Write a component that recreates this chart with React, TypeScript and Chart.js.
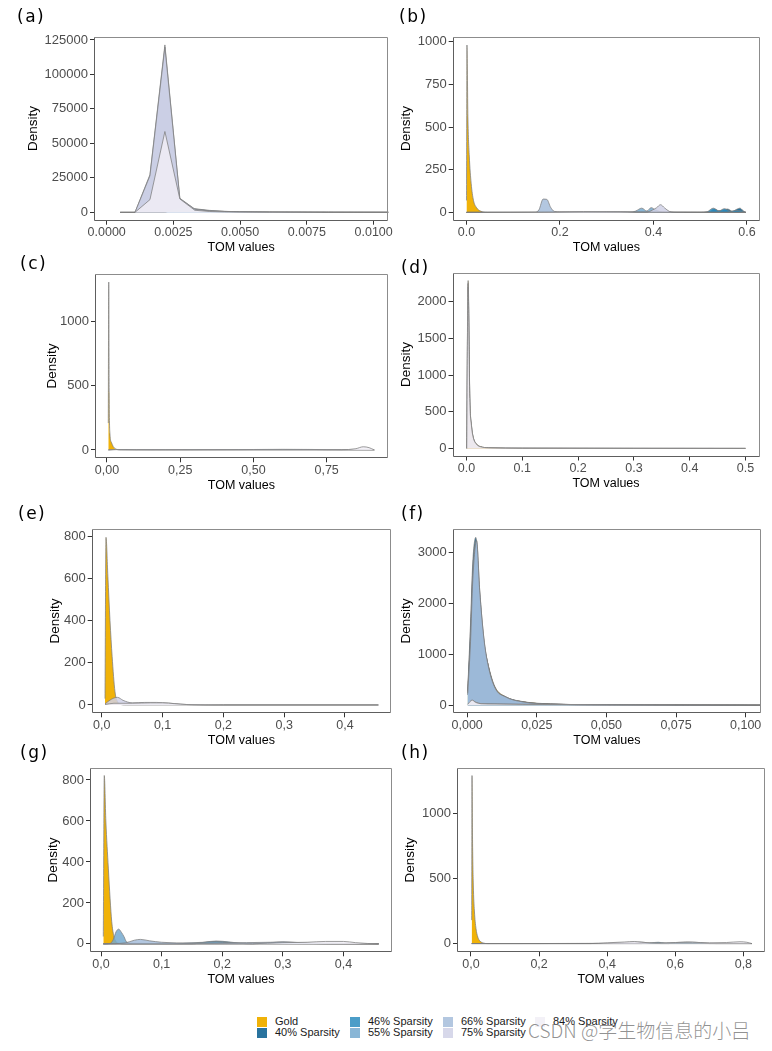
import React, { useEffect, useRef } from "react";
import { Chart, registerables } from "chart.js";

Chart.register(...registerables);
Chart.defaults.font.family = "'Liberation Sans', Arial, Helvetica, sans-serif";

// ---------- series ----------
const SERIES = ["Gold", "40% Sparsity", "46% Sparsity", "55% Sparsity", "66% Sparsity", "75% Sparsity", "84% Sparsity"];
const COLORS = ["#EFB000", "#045A8D", "#2B8CBE", "#74A9CF", "#A6BDDB", "#D0D1E6", "#F1EEF6"];
const ALPHAS = [0.97, 0.85, 0.85, 0.85, 0.85, 0.85, 0.85];

// ---------- panel (a) ----------
const aXTicks = [0, 0.0025, 0.005, 0.0075, 0.01];
const aXLabels = ["0.0000", "0.0025", "0.0050", "0.0075", "0.0100"];
const aYTicks = [0, 25000, 50000, 75000, 100000, 125000];
const a55 = [[0.0005, 0], [0.00218, 0], [0.00274, 3200], [0.0033, 2600], [0.00386, 1400], [0.00442, 700], [0.00498, 400], [0.0061, 200], [0.0083, 100], [0.011, 60]];
const a66 = [[0.0005, 0], [0.00106, 0], [0.00162, 27300], [0.00218, 121400], [0.00274, 10200], [0.0033, 2400], [0.00386, 1100], [0.00442, 650], [0.00498, 420], [0.00554, 300], [0.0061, 220], [0.0072, 150], [0.0083, 110], [0.0094, 80], [0.0105, 60], [0.011, 50]];
const a75 = [[0.0005, 0], [0.00106, 0], [0.00162, 26500], [0.00218, 119800], [0.00274, 9900], [0.0033, 2200], [0.00386, 1000], [0.00442, 600], [0.00498, 400], [0.0061, 200], [0.0083, 100], [0.011, 50]];
const a84 = [[0.0005, 0], [0.00106, 0], [0.00162, 9200], [0.00218, 58600], [0.00274, 9700], [0.0033, 1500], [0.00386, 600], [0.00442, 300], [0.0061, 150], [0.0083, 80], [0.011, 40]];

// ---------- panel (b) ----------
const bXTicks = [0, 0.2, 0.4, 0.6];
const bXLabels = ["0.0", "0.2", "0.4", "0.6"];
const bYTicks = [0, 250, 500, 750, 1000];
const bGold = [[0, 70], [0.001, 980], [0.003, 560], [0.006, 330], [0.01, 170], [0.015, 70], [0.021, 30], [0.03, 8], [0.045, 0], [0.598, 0]];
const b40 = [[0, 0], [0.5, 0], [0.52, 4], [0.53, 20], [0.54, 10], [0.55, 14], [0.558, 20], [0.57, 6], [0.578, 18], [0.585, 25], [0.592, 10], [0.598, 0]];
const b46 = [[0, 0], [0.5, 0], [0.515, 4], [0.528, 25], [0.54, 9], [0.552, 22], [0.565, 5], [0.575, 12], [0.588, 8], [0.598, 0]];
const b55 = [[0, 0], [0.35, 0], [0.362, 8], [0.375, 25], [0.386, 8], [0.395, 28], [0.405, 14], [0.42, 2], [0.45, 0], [0.598, 0]];
const b66 = [[0, 0], [0.145, 0], [0.155, 15], [0.164, 78], [0.172, 76], [0.18, 30], [0.188, 6], [0.2, 3], [0.3, 5], [0.36, 3], [0.598, 0]];
const b75 = [[0, 0], [0.385, 0], [0.398, 14], [0.407, 28], [0.415, 45], [0.424, 26], [0.434, 6], [0.445, 0], [0.598, 0]];
const b84 = [[0, 0], [0.19, 2], [0.25, 5], [0.33, 4], [0.36, 1], [0.598, 0]];

// ---------- panel (c) ----------
const cXTicks = [0, 0.25, 0.5, 0.75];
const cXLabels = ["0,00", "0,25", "0,50", "0,75"];
const cYTicks = [0, 500, 1000];
const cGold = [[0.0045, 210], [0.006, 1310], [0.0075, 450], [0.01, 130], [0.015, 60], [0.021, 28], [0.03, 8], [0.045, 0], [0.913, 0]];
const c66 = [[0.0045, 0], [0.04, 3], [0.2, 2], [0.45, 3], [0.6, 5], [0.7, 4], [0.75, 2], [0.913, 0]];
const c84 = [[0.0045, 0], [0.03, 4], [0.1, 2], [0.5, 2], [0.8, 2], [0.85, 10], [0.875, 25], [0.895, 18], [0.913, 0]];

// ---------- panel (d) ----------
const dXTicks = [0, 0.1, 0.2, 0.3, 0.4, 0.5];
const dXLabels = ["0.0", "0.1", "0.2", "0.3", "0.4", "0.5"];
const dYTicks = [0, 500, 1000, 1500, 2000];
const dGold = [[0.0005, 0], [0.003, 2290], [0.006, 700], [0.009, 320], [0.012, 160], [0.018, 60], [0.025, 25], [0.04, 10], [0.1, 4], [0.3, 2], [0.5, 1]];
const d75 = [[0.0005, 0], [0.003, 2200], [0.006, 650], [0.009, 300], [0.012, 150], [0.018, 55], [0.025, 22], [0.04, 9], [0.1, 3], [0.3, 1], [0.5, 0]];
const d84 = [[0.0005, 0], [0.0028, 2250], [0.006, 680], [0.009, 310], [0.012, 155], [0.018, 58], [0.025, 24], [0.04, 10], [0.1, 4], [0.3, 2], [0.5, 1]];

// ---------- panel (e) ----------
const eXTicks = [0, 0.1, 0.2, 0.3, 0.4];
const eXLabels = ["0,0", "0,1", "0,2", "0,3", "0,4"];
const eYTicks = [0, 200, 400, 600, 800];
const eGold = [[0.0053, 30], [0.0069, 795], [0.01, 610], [0.0135, 400], [0.017, 230], [0.0217, 63], [0.026, 15], [0.03, 3], [0.04, 0], [0.455, 0]];
const e75 = [[0.0053, 5], [0.012, 20], [0.02, 33], [0.026, 36], [0.035, 22], [0.05, 10], [0.07, 12], [0.09, 12], [0.11, 9], [0.13, 4], [0.15, 1], [0.2, 0], [0.455, 0]];
const e84 = [[0.0053, 2], [0.02, 8], [0.05, 8], [0.08, 10], [0.1, 10], [0.12, 6], [0.14, 2], [0.2, 0], [0.455, 0]];

// ---------- panel (f) ----------
const fXTicks = [0, 0.025, 0.05, 0.075, 0.1];
const fXLabels = ["0,000", "0,025", "0,050", "0,075", "0,100"];
const fYTicks = [0, 1000, 2000, 3000];
const fGold = [[0.0002, 200], [0.0012, 1300], [0.002, 2400], [0.003, 2900], [0.0042, 2100], [0.0055, 1350], [0.0075, 800], [0.01, 360], [0.0137, 170], [0.02, 70], [0.03, 25], [0.05, 7], [0.08, 2], [0.106, 0]];
const f40 = [[0.0002, 300], [0.0012, 1600], [0.002, 2800], [0.0031, 3300], [0.0042, 2300], [0.0055, 1400], [0.0075, 790], [0.01, 335], [0.0137, 164], [0.02, 65], [0.03, 22], [0.05, 6], [0.08, 2], [0.106, 0]];
const f46 = [[0.0002, 280], [0.0012, 1450], [0.002, 2650], [0.0032, 3180], [0.0044, 2250], [0.0058, 1350], [0.0075, 780], [0.01, 330], [0.0137, 162], [0.02, 63], [0.03, 21], [0.05, 6], [0.08, 2], [0.106, 0]];
const f55 = [[0.0002, 250], [0.0012, 1300], [0.002, 2500], [0.0033, 3250], [0.0045, 2250], [0.006, 1300], [0.0075, 780], [0.01, 330], [0.0137, 160], [0.02, 62], [0.03, 20], [0.05, 5], [0.08, 2], [0.106, 0]];
const f66 = [[0.0002, 230], [0.0012, 1250], [0.002, 2450], [0.0034, 3230], [0.0045, 2250], [0.006, 1320], [0.0075, 790], [0.01, 340], [0.0137, 165], [0.02, 64], [0.03, 21], [0.05, 6], [0.08, 2], [0.106, 0]];
const f75 = [[0.0002, 10], [0.002, 90], [0.003, 60], [0.005, 30], [0.01, 25], [0.02, 18], [0.05, 6], [0.106, 0]];
const f84 = [[0.0002, 20], [0.0018, 100], [0.003, 55], [0.005, 28], [0.01, 22], [0.02, 15], [0.05, 5], [0.106, 0]];

// ---------- panel (g) ----------
const gXTicks = [0, 0.1, 0.2, 0.3, 0.4];
const gXLabels = ["0,0", "0,1", "0,2", "0,3", "0,4"];
const gYTicks = [0, 200, 400, 600, 800];
const gGold = [[0.0038, 36], [0.0054, 822], [0.008, 600], [0.0121, 370], [0.015, 220], [0.0177, 109], [0.021, 40], [0.025, 10], [0.03, 2], [0.04, 0], [0.458, 0]];
const g40 = [[0.0038, 0], [0.25, 0], [0.28, 6], [0.3, 9], [0.32, 7], [0.35, 2], [0.38, 0], [0.458, 0]];
const g46 = [[0.0038, 0], [0.15, 0], [0.17, 8], [0.19, 14], [0.21, 10], [0.23, 3], [0.25, 0], [0.458, 0]];
const g55 = [[0.0038, 0], [0.015, 2], [0.02, 20], [0.025, 60], [0.029, 72], [0.034, 55], [0.038, 35], [0.042, 10], [0.05, 3], [0.1, 2], [0.17, 8], [0.19, 12], [0.21, 6], [0.25, 2], [0.458, 0]];
const g66 = [[0.0038, 0], [0.04, 5], [0.055, 18], [0.065, 22], [0.08, 15], [0.1, 8], [0.15, 3], [0.2, 5], [0.28, 8], [0.3, 10], [0.33, 6], [0.4, 2], [0.458, 0]];
const g84 = [[0.0038, 0], [0.25, 1], [0.3, 6], [0.34, 8], [0.37, 12], [0.4, 12], [0.42, 6], [0.44, 2], [0.458, 0]];

// ---------- panel (h) ----------
const hXTicks = [0, 0.2, 0.4, 0.6, 0.8];
const hXLabels = ["0,0", "0,2", "0,4", "0,6", "0,8"];
const hYTicks = [0, 500, 1000];
const hGold = [[0.002, 180], [0.003, 1290], [0.0045, 800], [0.0068, 450], [0.01, 250], [0.0147, 115], [0.02, 50], [0.0245, 25], [0.035, 5], [0.05, 0], [0.825, 0]];
const h40 = [[0.002, 0], [0.58, 0], [0.61, 6], [0.64, 10], [0.67, 6], [0.7, 0], [0.825, 0]];
const h46 = [[0.002, 0], [0.5, 0], [0.53, 6], [0.55, 10], [0.57, 5], [0.6, 8], [0.63, 12], [0.66, 10], [0.69, 3], [0.72, 0], [0.825, 0]];
const h75 = [[0.002, 0], [0.4, 2], [0.47, 10], [0.5, 12], [0.52, 5], [0.56, 0], [0.825, 0]];
const h84 = [[0.002, 0], [0.35, 0], [0.4, 6], [0.45, 12], [0.48, 16], [0.5, 10], [0.55, 5], [0.6, 8], [0.65, 10], [0.7, 6], [0.75, 8], [0.79, 14], [0.81, 10], [0.825, 0]];

// ---------- layout (positions only) ----------
const PANELS = [
  { tag: "(a)", tagX: 17, tagY: 8, L: 94, T: 36.5, R: 388.3, B: 220.7, cl: 25, xMin: -0.000476, xMax: 0.01055, yMin: -6070, yMax: 127500, xTicks: aXTicks, xLabels: aXLabels, yTicks: aYTicks, smooth: false, series: [[3, a55], [4, a66], [5, a75], [6, a84]] },
  { tag: "(b)", tagX: 399, tagY: 8, L: 452.7, T: 36.5, R: 760, B: 220.7, cl: 398, xMin: -0.0295, xMax: 0.628, yMin: -48.5, yMax: 1030, xTicks: bXTicks, xLabels: bXLabels, yTicks: bYTicks, smooth: true, series: [[0, bGold], [1, b40], [2, b46], [3, b55], [4, b66], [5, b75], [6, b84]] },
  { tag: "(c)", tagX: 20, tagY: 255.3, L: 95, T: 273.5, R: 387.7, B: 458.3, cl: 44, xMin: -0.0409, xMax: 0.9585, yMin: -65, yMax: 1377, xTicks: cXTicks, xLabels: cXLabels, yTicks: cYTicks, smooth: true, series: [[0, cGold], [4, c66], [6, c84]] },
  { tag: "(d)", tagX: 401, tagY: 258.6, L: 452.5, T: 272.5, R: 759.5, B: 456.5, cl: 398, xMin: -0.025, xMax: 0.525, yMin: -110, yMax: 2400, xTicks: dXTicks, xLabels: dXLabels, yTicks: dYTicks, smooth: true, series: [[0, dGold], [5, d75], [6, d84]] },
  { tag: "(e)", tagX: 18, tagY: 505.3, L: 91.7, T: 528.5, R: 391, B: 713.3, cl: 47, xMin: -0.0166, xMax: 0.4757, yMin: -39.5, yMax: 837, xTicks: eXTicks, xLabels: eXLabels, yTicks: eYTicks, smooth: true, series: [[0, eGold], [5, e75], [6, e84]] },
  { tag: "(f)", tagX: 401, tagY: 505.3, L: 452.7, T: 528.5, R: 761, B: 713.3, cl: 398, xMin: -0.0052, xMax: 0.1055, yMin: -160, yMax: 3475, xTicks: fXTicks, xLabels: fXLabels, yTicks: fYTicks, smooth: true, series: [[0, fGold], [1, f40], [2, f46], [3, f55], [4, f66], [5, f75], [6, f84]] },
  { tag: "(g)", tagX: 20, tagY: 743.6, L: 90, T: 767.5, R: 392, B: 952.3, cl: 45, xMin: -0.01815, xMax: 0.48, yMin: -41, yMax: 861, xTicks: gXTicks, xLabels: gXLabels, yTicks: gYTicks, smooth: true, series: [[0, gGold], [1, g40], [2, g46], [3, g55], [4, g66], [6, g84]] },
  { tag: "(h)", tagX: 401, tagY: 743.6, L: 457, T: 767.5, R: 765, B: 952.3, cl: 402, xMin: -0.0411, xMax: 0.8635, yMin: -67, yMax: 1352, xTicks: hXTicks, xLabels: hXLabels, yTicks: hYTicks, smooth: true, series: [[0, hGold], [1, h40], [2, h46], [5, h75], [6, h84]] },
];

const PAD_TOP = 12;
const X_AXIS_H = 34.5;
const PAD_BOTTOM = 3;
const PAD_RIGHT = 22;

function hexToRgba(hex: string, a: number) {
  const n = parseInt(hex.slice(1), 16);
  return `rgba(${(n >> 16) & 255},${(n >> 8) & 255},${n & 255},${a})`;
}

function geom(p: any) {
  const left = p.cl;
  const top = Math.floor(p.T) - PAD_TOP;
  const width = Math.ceil(p.R - left + PAD_RIGHT);
  const height = Math.ceil(p.B - top + X_AXIS_H + PAD_BOTTOM);
  return {
    left,
    top,
    width,
    height,
    padTop: p.T - top,
    padRight: width - (p.R - left),
    padBottom: height - (p.B - top) - X_AXIS_H,
    yW: p.L - left,
  };
}

const framePlugin = {
  id: "frame",
  afterDatasetsDraw(chart: any) {
    const { ctx, chartArea } = chart;
    const l = Math.round(chartArea.left) + 0.5;
    const t = Math.round(chartArea.top) + 0.5;
    const r = Math.round(chartArea.right) - 0.5;
    const b = Math.round(chartArea.bottom) - 0.5;
    ctx.save();
    ctx.lineWidth = 1;
    ctx.strokeStyle = "#8c8c8c";
    ctx.beginPath();
    ctx.moveTo(l, t);
    ctx.lineTo(r, t);
    ctx.lineTo(r, b);
    ctx.stroke();
    ctx.strokeStyle = "#5e5e5e";
    ctx.beginPath();
    ctx.moveTo(l, t);
    ctx.lineTo(l, b);
    ctx.lineTo(r, b);
    ctx.stroke();
    ctx.restore();
  },
};

function Panel({ p }: { p: any }) {
  const ref = useRef<HTMLCanvasElement | null>(null);
  const g = geom(p);
  useEffect(() => {
    if (!ref.current) return;
    const datasets = p.series.map(([si, pts]: [number, number[][]]) => ({
      label: SERIES[si],
      data: pts.map(([x, y]) => ({ x, y })),
      backgroundColor: hexToRgba(COLORS[si], ALPHAS[si]),
      borderColor: "rgba(125,125,125,0.95)",
      borderWidth: 0.8,
      fill: "origin",
      pointRadius: 0,
      tension: 0,
      cubicInterpolationMode: p.smooth ? "monotone" : "default",
      order: 6 - si,
    }));
    const gridOpts = {
      display: true,
      drawOnChartArea: false,
      drawTicks: true,
      tickLength: 4,
      tickColor: "#333333",
      tickWidth: 1,
    };
    const chart = new Chart(ref.current, {
      type: "line",
      data: { datasets },
      plugins: [framePlugin],
      options: {
        responsive: false,
        maintainAspectRatio: false,
        animation: false,
        devicePixelRatio: 1,
        events: [],
        layout: { padding: { left: 0, top: g.padTop, right: g.padRight, bottom: g.padBottom } },
        plugins: { legend: { display: false }, tooltip: { enabled: false } },
        scales: {
          x: {
            type: "linear",
            min: p.xMin,
            max: p.xMax,
            afterBuildTicks: (s: any) => {
              s.ticks = p.xTicks.map((v: number) => ({ value: v }));
            },
            afterFit: (s: any) => {
              s.height = X_AXIS_H;
            },
            ticks: {
              autoSkip: false,
              maxRotation: 0,
              minRotation: 0,
              padding: 0.5,
              color: "#4d4d4d",
              font: { size: 12.5 },
              callback: (_v: any, i: number) => p.xLabels[i],
            },
            grid: gridOpts,
            border: { display: false },
            title: { display: true, text: "TOM values", color: "#000000", font: { size: 12.5 }, padding: 0 },
          },
          y: {
            type: "linear",
            min: p.yMin,
            max: p.yMax,
            afterBuildTicks: (s: any) => {
              s.ticks = p.yTicks.map((v: number) => ({ value: v }));
            },
            afterFit: (s: any) => {
              s.width = g.yW;
            },
            ticks: {
              autoSkip: false,
              padding: 2,
              color: "#4d4d4d",
              font: { size: 13 },
              callback: (_v: any, i: number) => String(p.yTicks[i]),
            },
            grid: gridOpts,
            border: { display: false },
            title: { display: true, text: "Density", color: "#000000", font: { size: 13.5 }, padding: 0 },
          },
        },
      } as any,
    });
    return () => chart.destroy();
  }, []);
  return (
    <>
      <canvas
        ref={ref}
        width={g.width}
        height={g.height}
        style={{ position: "absolute", left: g.left, top: g.top, width: g.width, height: g.height }}
      />
      <div
        style={{
          position: "absolute",
          left: p.tagX,
          top: p.tagY,
          fontFamily: "'DejaVu Sans', sans-serif",
          fontSize: 17,
          lineHeight: "17px",
          letterSpacing: 1.5,
          color: "#000",
          whiteSpace: "nowrap",
        }}
      >
        {p.tag}
      </div>
    </>
  );
}

const LEGEND_POS = [
  [257, 1016.5], [257, 1027.5],
  [350, 1016.5], [350, 1027.5],
  [443, 1016.5], [443, 1027.5],
  [535, 1016.5],
];

function Legend() {
  return (
    <>
      {SERIES.map((name, i) => {
        const [x, y] = LEGEND_POS[i];
        return (
          <React.Fragment key={name}>
            <div
              style={{
                position: "absolute",
                left: x,
                top: y,
                width: 10,
                height: 10,
                background: hexToRgba(COLORS[i], ALPHAS[i]),
              }}
            />
            <div
              style={{
                position: "absolute",
                left: x + 18,
                top: y - 1.5,
                height: 13,
                lineHeight: "13px",
                fontFamily: "'Liberation Sans', Arial, sans-serif",
                fontSize: 11,
                color: "#1a1a1a",
                whiteSpace: "nowrap",
              }}
            >
              {name}
            </div>
          </React.Fragment>
        );
      })}
    </>
  );
}

export default function App() {
  return (
    <div style={{ position: "absolute", left: 0, top: 0, width: 772, height: 1051, background: "#ffffff", overflow: "hidden" }}>
      {PANELS.map((p) => (
        <Panel key={p.tag} p={p} />
      ))}
      <Legend />
      <div
        style={{
          position: "absolute",
          left: 528,
          top: 1019,
          fontFamily: "'Noto Sans CJK SC', 'Noto Sans', sans-serif",
          fontSize: 19,
          fontWeight: 300,
          lineHeight: "22px",
          color: "rgba(110,110,110,0.75)",
          whiteSpace: "nowrap",
        }}
      >
        CSDN @学生物信息的小吕
      </div>
    </div>
  );
}
